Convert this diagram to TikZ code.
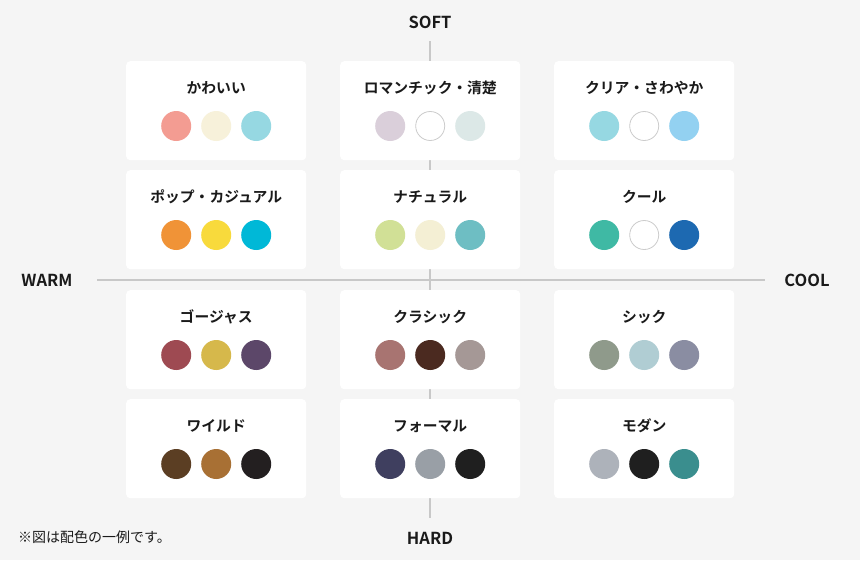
\documentclass[tikz,border=0pt]{standalone}
\usepackage{fontspec}
\setmainfont{Noto Sans CJK JP}
\newfontfamily\jpbold{Noto Sans CJK JP Bold}
\definecolor{bg}{HTML}{F5F5F5}
\definecolor{axis}{HTML}{C8C8C8}
\definecolor{ring}{HTML}{CCCCCC}
\definecolor{txt}{HTML}{1A1A1A}
\tikzset{
  cardbox/.style={fill=white, draw=none, rounded corners=4pt, minimum width=180pt, minimum height=99pt, inner sep=0pt},
  cardtitle/.style={font=\jpbold\fontsize{14.8}{17}\selectfont, text=txt, inner sep=0pt},
  swatch/.style={circle, minimum size=30pt, inner sep=0pt, fill=#1},
  whiteswatch/.style={circle, minimum size=29pt, inner sep=0pt, fill=white, draw=ring, line width=0.8pt},
  axislabel/.style={font=\jpbold\fontsize{16.5}{19}\selectfont, text=txt, inner sep=0pt},
  axisline/.style={draw=axis, line width=1.6pt}
}
\newcommand\colorcard[6]{% name, x, y(top), title, unused, swatches
  \node[cardbox, anchor=north west] (#1) at (#2,#3) {};
  \node[cardtitle] (#1t) at ([yshift=-27pt]#1.north) {#4};
  #6
}
\newcommand\sw[4]{% name, card, dx, colour
  \definecolor{col#1}{HTML}{#4}%
  \node[swatch=col#1] (#1) at ([xshift=#3pt,yshift=-65pt]#2.north) {};}
\newcommand\ws[3]{%
  \node[whiteswatch] (#1) at ([xshift=#3pt,yshift=-65pt]#2.north) {};}
\begin{document}
\begin{tikzpicture}[x=1pt,y=-1pt]
\fill[bg] (0,0) rectangle (860,560);
\useasboundingbox (0,0) rectangle (860,560);
% axes
\coordinate (vtop) at (430,41);
\coordinate (vbot) at (430,518);
\coordinate (hl) at (97,280);
\coordinate (hr) at (765,280);
\draw[axisline] (vtop) -- (vbot);
\draw[axisline] (hl) -- (hr);
\node[axislabel] (soft) at (430,22) {SOFT};
\node[axislabel] (hard) at (430,538) {HARD};
\node[axislabel] (warm) at (47,280) {WARM};
\node[axislabel] (cool) at (807,280) {COOL};
\node[anchor=west, inner sep=0pt, font=\fontsize{14}{16}\selectfont, text=txt] (note) at (18,537) {※図は配色の一例です。};
% row 1
\colorcard{kawaii}{126}{61}{かわいい}{}{%
  \sw{k1}{kawaii}{-40}{F39C92}\sw{k2}{kawaii}{0}{F7F1DA}\sw{k3}{kawaii}{40}{96D8E2}}
\colorcard{roman}{340}{61}{ロマンチック・清楚}{}{%
  \sw{r1}{roman}{-40}{DACFDA}\ws{r2}{roman}{0}\sw{r3}{roman}{40}{DCE8E7}}
\colorcard{clear}{554}{61}{クリア・さわやか}{}{%
  \sw{c1}{clear}{-40}{96D8E2}\ws{c2}{clear}{0}\sw{c3}{clear}{40}{93D1F1}}
% row 2
\colorcard{pop}{126}{170}{ポップ・カジュアル}{}{%
  \sw{p1}{pop}{-40}{F09337}\sw{p2}{pop}{0}{F8DA3C}\sw{p3}{pop}{40}{00B8D7}}
\colorcard{natural}{340}{170}{ナチュラル}{}{%
  \sw{n1}{natural}{-40}{D1E096}\sw{n2}{natural}{0}{F4EFD4}\sw{n3}{natural}{40}{6EBEC3}}
\colorcard{coolc}{554}{170}{クール}{}{%
  \sw{q1}{coolc}{-40}{3FB9A4}\ws{q2}{coolc}{0}\sw{q3}{coolc}{40}{1D69B1}}
% row 3
\colorcard{gorg}{126}{290}{ゴージャス}{}{%
  \sw{g1}{gorg}{-40}{9E4A52}\sw{g2}{gorg}{0}{D6B84B}\sw{g3}{gorg}{40}{5C4769}}
\colorcard{classic}{340}{290}{クラシック}{}{%
  \sw{l1}{classic}{-40}{A87471}\sw{l2}{classic}{0}{4B2A20}\sw{l3}{classic}{40}{A59896}}
\colorcard{chic}{554}{290}{シック}{}{%
  \sw{s1}{chic}{-40}{8F9A8B}\sw{s2}{chic}{0}{B0CDD3}\sw{s3}{chic}{40}{8A8DA2}}
% row 4
\colorcard{wild}{126}{399}{ワイルド}{}{%
  \sw{w1}{wild}{-40}{5B3E23}\sw{w2}{wild}{0}{A87034}\sw{w3}{wild}{40}{231F20}}
\colorcard{formal}{340}{399}{フォーマル}{}{%
  \sw{f1}{formal}{-40}{3F3F5F}\sw{f2}{formal}{0}{999FA6}\sw{f3}{formal}{40}{1F1F1F}}
\colorcard{modern}{554}{399}{モダン}{}{%
  \sw{m1}{modern}{-40}{ADB2BA}\sw{m2}{modern}{0}{1F1F1F}\sw{m3}{modern}{40}{3A8E8E}}
\end{tikzpicture}
\end{document}
